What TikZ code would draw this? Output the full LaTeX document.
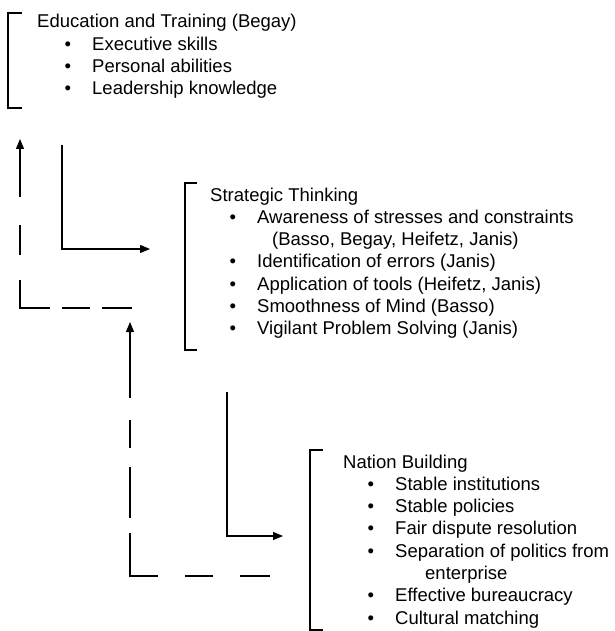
\documentclass[tikz,border=0pt]{standalone}
\usepackage{fontspec}
\setmainfont{Liberation Sans}
\usetikzlibrary{arrows.meta}

\newcommand\bul{\llap{\textbullet\hspace{21pt}}}

\begin{document}
\begin{tikzpicture}[x=1pt,y=-1pt,
    txt/.style={anchor=base west,inner sep=0pt,font=\fontsize{18.5}{22}\selectfont},
    bracket/.style={line width=1.1pt},
    link/.style={line width=1.1pt,-{Triangle[length=10pt,width=8pt]}}]
    \useasboundingbox (0,0) rectangle (614,631);
    %% Education and Training
    \node[txt] (edu) at (37,28) {Education and Training (Begay)};
    \foreach \t [count=\i] in {Executive skills,Personal abilities,Leadership knowledge}
      \node[txt] (edu\i) at (92,28+22.3*\i) {\bul\t};
    \draw[bracket] (22,13) -| (8,108) -- (22,108);
    %% Strategic Thinking
    \node[txt] (strat) at (210,201) {Strategic Thinking};
    \foreach \t/\r in {Awareness of stresses and constraints/1,{Identification of errors (Janis)}/3,{Application of tools (Heifetz, Janis)}/4,{Smoothness of Mind (Basso)}/5,{Vigilant Problem Solving (Janis)}/6}
      \node[txt] (strat\r) at (257,201+22.3*\r) {\bul\t};
    \node[txt] (strat2) at (272,201+22.3*2) {(Basso, Begay, Heifetz, Janis)};
    \draw[bracket] (197,183) -| (185,350) -- (197,350);
    %% Nation Building
    \node[txt] (nation) at (343,468) {Nation Building};
    \foreach \t/\r in {Stable institutions/1,Stable policies/2,Fair dispute resolution/3,Separation of politics from/4,Effective bureaucracy/6,Cultural matching/7}
      \node[txt] (nation\r) at (395,468+22.3*\r) {\bul\t};
    \node[txt] (nation5) at (425,468+22.3*5) {enterprise};
    \draw[bracket] (323,450) -| (310,630) -- (323,630);
    %% Draw the connectors
    \coordinate (s1) at (62,145);
    \coordinate (t1) at (150,249);
    \coordinate (d1) at (132,308);
    \coordinate (u1) at (20,139);
    \coordinate (s2) at (227,392);
    \coordinate (t2) at (283,536);
    \coordinate (d2) at (270,576);
    \coordinate (u2) at (130,322);
    \draw[link] (s1) |- (t1);
    \draw[link] (s2) |- (t2);
    \draw[link,dash pattern=on 30pt off 12pt on 28pt off 12pt on 58pt off 25pt on 30pt off 28pt on 70pt] (d1) -| (u1);
    \draw[link,dash pattern=on 30pt off 27pt on 28pt off 27pt on 71pt off 15pt on 51pt off 19pt on 28pt off 22pt on 90pt] (d2) -| (u2);
\end{tikzpicture}
\end{document}
